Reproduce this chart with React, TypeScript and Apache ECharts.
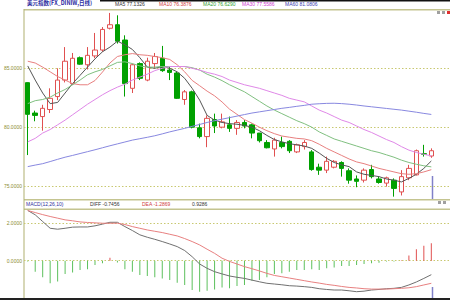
import React, { useEffect, useRef } from 'react';
import * as echarts from 'echarts';

// ---- data ----
const categories = Array.from({ length: 57 }, (_, i) => `D${i + 1}`);

const openPrices = [83.78, 81.2, 80.9, 81.5, 82.6, 84.0, 83.7, 85.9, 85.3, 86.05, 86.55, 88.4, 88.7, 87.4, 83.3, 85.4, 84.0,
  85.4, 85.85, 84.85, 84.6, 82.35, 83.0, 79.95, 79.2, 80.65, 80.0, 80.2, 79.9, 80.4, 80.2, 79.5, 78.7, 78.15, 78.7, 78.8, 77.9,
  78.35, 77.9, 76.6, 76.35, 76.6, 77.0, 76.3, 75.6, 75.5, 76.4, 75.6, 75.25, 75.5, 74.5, 75.7, 75.95, 77.75, 77.55];
const closePrices = [81.09, 81.0, 81.6, 82.45, 84.0, 85.6, 85.85, 85.35, 86.1, 86.55, 88.3, 88.7, 87.3, 83.7, 85.3, 84.15, 85.6,
  86.0, 84.8, 84.65, 82.45, 83.0, 80.0, 79.2, 80.75, 80.1, 80.45, 79.9, 80.4, 80.1, 79.5, 78.85, 78.25, 78.9, 78.35, 78.0, 78.5,
  78.7, 76.4, 76.35, 77.1, 77.1, 76.5, 75.5, 75.4, 76.35, 75.8, 75.3, 75.7, 74.8, 75.8, 76.5, 78.0, 77.7, 78.0];
const lowPrices = [77.63, 80.5, 79.7, 81.2, 82.3, 83.8, 83.6, 85.3, 84.9, 85.85, 86.4, 88.3, 87.1, 82.6, 82.9, 84.0, 83.9,
  85.0, 84.7, 84.0, 82.4, 81.9, 79.9, 79.05, 78.3, 79.5, 79.9, 79.6, 79.35, 79.9, 79.05, 78.7, 78.2, 77.5, 78.2, 77.8, 77.8,
  78.1, 76.3, 75.95, 76.1, 76.5, 75.8, 75.2, 74.9, 75.3, 75.65, 75.2, 74.95, 74.1, 74.2, 75.5, 75.9, 77.5, 77.4];
const highPrices = [83.8, 81.4, 81.9, 83.3, 85.0, 86.8, 86.3, 86.0, 86.8, 88.0, 88.5, 89.7, 89.5, 87.8, 85.4, 85.5, 85.9,
  86.3, 86.9, 85.1, 84.7, 83.15, 83.1, 80.3, 81.0, 81.15, 81.15, 80.9, 80.6, 80.6, 80.3, 79.5, 78.9, 79.1, 79.2, 78.9, 78.6,
  78.9, 78.05, 76.9, 77.5, 77.2, 77.1, 76.5, 75.9, 76.5, 76.8, 75.8, 75.8, 75.65, 76.35, 76.8, 78.1, 78.5, 78.2];

const ma5 = [85.2, 84.0, 82.9, 82.0, 82.1, 82.9, 83.7, 84.4, 85.1, 85.8, 86.4, 86.8, 87.3, 87.0, 86.6, 85.9, 85.1,
  85.0, 85.15, 85.0, 84.7, 84.15, 83.3, 82.3, 81.0, 80.6, 80.4, 80.3, 80.25, 80.15, 80.0, 79.7, 79.3, 78.95, 78.75, 78.6, 78.5,
  78.4, 78.2, 77.8, 77.35, 77.0, 76.8, 76.65, 76.2, 76.0, 75.9, 75.8, 75.6, 75.5, 75.35, 75.65, 76.0, 76.5, 77.13];
const ma10 = [85.6, 85.45, 85.1, 84.7, 84.3, 84.0, 83.7, 83.6, 83.6, 83.96, 84.68, 85.45, 86.0, 86.15, 86.25, 86.15, 86.1,
  86.0, 85.9, 85.75, 85.3, 84.7, 83.97, 83.52, 83.06, 82.66, 82.14, 81.53, 81.09, 80.64, 80.34, 80.0, 79.7, 79.45, 79.25, 79.15, 79.05,
  79.0, 78.85, 78.55, 78.2, 77.9, 77.6, 77.3, 77.05, 76.9, 76.7, 76.5, 76.35, 76.2, 76.05, 76.0, 76.05, 76.2, 76.39];
const ma20 = [82.0, 82.25, 82.35, 82.55, 82.9, 83.2, 83.6, 84.0, 84.45, 84.7, 84.9, 85.2, 85.5, 85.55, 85.4, 85.2, 85.1,
  85.1, 85.15, 85.15, 85.15, 85.15, 85.05, 84.85, 84.5, 84.25, 83.95, 83.6, 83.3, 83.0, 82.6, 82.2, 81.8, 81.45, 81.15, 80.85, 80.55,
  80.3, 80.0, 79.6, 79.3, 79.0, 78.8, 78.6, 78.4, 78.2, 78.0, 77.85, 77.65, 77.45, 77.2, 77.0, 76.85, 76.72, 76.63];
const ma30 = [78.75, 79.05, 79.5, 79.8, 80.2, 80.6, 81.05, 81.5, 81.95, 82.35, 82.75, 83.1, 83.4, 83.65, 84.0, 84.25, 84.5,
  84.8, 85.0, 85.15, 85.15, 85.15, 85.0, 84.85, 84.65, 84.5, 84.3, 84.0, 83.8, 83.6, 83.45, 83.3, 83.1, 82.9, 82.7, 82.45, 82.3,
  82.15, 81.8, 81.45, 81.2, 80.9, 80.6, 80.4, 80.1, 79.8, 79.55, 79.25, 78.95, 78.7, 78.35, 78.05, 77.85, 77.7, 77.56];
const ma60 = [76.65, 76.78, 76.9, 77.08, 77.27, 77.45, 77.6, 77.76, 77.92, 78.08, 78.25, 78.42, 78.58, 78.74, 78.9, 79.02, 79.14,
  79.27, 79.43, 79.6, 79.75, 79.9, 80.07, 80.23, 80.4, 80.55, 80.68, 80.81, 80.94, 81.07, 81.2, 81.3, 81.4, 81.5, 81.6, 81.68, 81.77,
  81.85, 81.95, 81.99, 82.02, 82.03, 82.0, 81.95, 81.88, 81.8, 81.73, 81.66, 81.59, 81.52, 81.45, 81.36, 81.27, 81.17, 81.08];

const diffValues = [2.68, 2.45, 2.09, 1.73, 1.68, 1.73, 1.79, 1.8, 1.8, 1.86, 1.95, 2.05, 2.05, 1.82, 1.61, 1.38, 1.25, 1.14, 1.02, 0.89,
  0.75, 0.54, 0.21, -0.18, -0.41, -0.59, -0.71, -0.82, -0.89, -0.95, -1.04, -1.13, -1.21, -1.25, -1.29, -1.34, -1.36,
  -1.39, -1.43, -1.5, -1.54, -1.57, -1.57, -1.61, -1.66, -1.63, -1.57, -1.54, -1.5, -1.48, -1.43, -1.3, -1.14, -0.95, -0.75];
const deaValues = [2.68, 2.57, 2.46, 2.36, 2.27, 2.18, 2.13, 2.07, 2.04, 2.02, 2.0, 2.0, 2.0, 1.93, 1.82, 1.73, 1.64, 1.57, 1.5, 1.41,
  1.32, 1.18, 1.02, 0.84, 0.61, 0.39, 0.13, -0.04, -0.18, -0.32, -0.43, -0.55, -0.68, -0.79, -0.86, -0.93, -1.0,
  -1.07, -1.14, -1.2, -1.27, -1.32, -1.38, -1.43, -1.46, -1.5, -1.52, -1.52, -1.52, -1.5, -1.48, -1.45, -1.39, -1.3, -1.21];
const macdValues = [-0.05, -0.59, -0.89, -1.21, -1.12, -0.71, -0.64, -0.5, -0.46, -0.23, -0.14, 0.16, -0.1, -0.46, -0.59, -0.77, -0.82,
  -0.89, -0.95, -1.04, -1.18, -1.3, -1.57, -1.66, -1.61, -1.54, -1.43, -1.48, -1.36, -1.3, -1.07, -1.04, -0.89, -0.71, -0.68,
  -0.59, -0.5, -0.5, -0.46, -0.5, -0.41, -0.36, -0.29, -0.29, -0.23, -0.18, -0.14, -0.11, -0.05, -0.04, 0.02, 0.27, 0.61, 0.79, 0.93];

const priceTicks = [75, 80, 85];
const macdTicks = [0, 2];

const titleText = '美元指数(FX_DINIW,日线)';
const maLegend = [
  { text: 'MA5 77.1326', color: '#333333', x: 115 },
  { text: 'MA10 76.3876', color: '#d04040', x: 159 },
  { text: 'MA20 76.6290', color: '#30a030', x: 203 },
  { text: 'MA30 77.5586', color: '#d040d0', x: 242 },
  { text: 'MA60 81.0806', color: '#4040b0', x: 285 },
];
const macdLegend = [
  { text: 'MACD(12,26,10)', color: '#3030a0', x: 26 },
  { text: 'DIFF -0.7456', color: '#333333', x: 90 },
  { text: 'DEA -1.2869', color: '#d04040', x: 142 },
  { text: '0.9286', color: '#333333', x: 192 },
];

const UP = '#e05050';
const DOWN = '#00a000';
const FRAME = '#c4c490';
const GRIDLINE = '#c8c870';
const LABEL = '#8c8c30';

export default function App() {
  const ref = useRef<HTMLDivElement>(null);

  useEffect(() => {
    if (!ref.current) return;
    const chart = echarts.init(ref.current, null, { renderer: 'svg' });
    const candleData = openPrices.map((o, i) => [o, closePrices[i], lowPrices[i], highPrices[i]]);
    const macdBars = macdValues.map((v) => ({
      value: v,
      itemStyle: { color: v >= 0 ? UP : '#5cc05c' },
    }));

    const hiddenX = (gridIndex: number) => ({
      type: 'category',
      gridIndex,
      data: categories,
      boundaryGap: true,
      axisLine: { show: false },
      axisTick: { show: false },
      axisLabel: { show: false },
      splitLine: { show: false },
    });

    const lineSeries = (name: string, data: number[], color: string, xi = 0) => ({
      name,
      type: 'line',
      xAxisIndex: xi,
      yAxisIndex: xi,
      data,
      symbol: 'none',
      showSymbol: false,
      silent: true,
      z: 3,
      lineStyle: { color, width: 1 },
    });

    const graphics: any[] = [
      { type: 'rect', shape: { x: 100, y: 0, width: 350, height: 1.5 }, style: { fill: '#111111' }, silent: true },
      { type: 'rect', shape: { x: 24, y: 9, width: 426, height: 1.6 }, style: { fill: FRAME }, silent: true },
      { type: 'rect', shape: { x: 24, y: 199, width: 426, height: 1.5 }, style: { fill: FRAME }, silent: true },
      { type: 'rect', shape: { x: 24, y: 208.5, width: 426, height: 1.5 }, style: { fill: FRAME }, silent: true },
      { type: 'rect', shape: { x: 23.5, y: 9, width: 1, height: 291 }, style: { fill: '#b0b070' }, silent: true },
      { type: 'rect', shape: { x: 0, y: 298, width: 450, height: 2 }, style: { fill: '#222222' }, silent: true },
      { type: 'line', shape: { x1: 432.5, y1: 176, x2: 432.5, y2: 199 }, style: { stroke: '#8080c8', lineWidth: 1.5 }, silent: true },
      { type: 'line', shape: { x1: 432.5, y1: 287, x2: 432.5, y2: 298 }, style: { stroke: '#8080c8', lineWidth: 1.5 }, silent: true },
      { type: 'rect', shape: { x: 437, y: 11, width: 3, height: 3 }, style: { fill: '#a0a0a0' }, silent: true },
      { type: 'rect', shape: { x: 442, y: 11, width: 3, height: 3 }, style: { fill: '#a0a0a0' }, silent: true },
      { type: 'rect', shape: { x: 447, y: 11, width: 3, height: 3 }, style: { fill: '#e03030' }, silent: true },
      { type: 'rect', shape: { x: 438, y: 201, width: 3, height: 3 }, style: { fill: '#a0a0a0' }, silent: true },
      { type: 'rect', shape: { x: 443, y: 201, width: 3, height: 3 }, style: { fill: '#a0a0a0' }, silent: true },
      {
        type: 'text', x: 27, y: 0.5, silent: true,
        style: { text: titleText, fill: '#2a2aa0', fontSize: 5.5, fontFamily: 'Noto Sans CJK SC', fontWeight: 'bold' },
      },
      ...maLegend.map((m) => ({
        type: 'text', x: m.x, y: 1.5, silent: true,
        style: { text: m.text, fill: m.color, fontSize: 5, fontFamily: 'Liberation Sans' },
      })),
      ...macdLegend.map((m) => ({
        type: 'text', x: m.x, y: 201.5, silent: true,
        style: { text: m.text, fill: m.color, fontSize: 5, fontFamily: 'Liberation Sans' },
      })),
    ];

    chart.setOption({
      animation: false,
      backgroundColor: '#ffffff',
      textStyle: { fontFamily: 'Liberation Sans' },
      grid: [
        { left: 24, top: 10, width: 426, height: 189 },
        { left: 24, top: 209, width: 426, height: 90 },
      ],
      xAxis: [hiddenX(0), hiddenX(1)],
      yAxis: [
        {
          type: 'value', gridIndex: 0, min: 73.9, max: 89.95,
          axisLine: { show: false },
          axisTick: { show: false, customValues: priceTicks },
          axisLabel: {
            customValues: priceTicks, formatter: (v: number) => v.toFixed(4),
            fontSize: 5, color: LABEL, margin: 2,
          },
          splitLine: { show: true, lineStyle: { type: [1.5, 2], color: GRIDLINE, width: 1 } },
        },
        {
          type: 'value', gridIndex: 1, min: -2.05, max: 2.76,
          axisLine: { show: false },
          axisTick: { show: false, customValues: macdTicks },
          axisLabel: {
            customValues: macdTicks, formatter: (v: number) => v.toFixed(4),
            fontSize: 5, color: LABEL, margin: 2,
          },
          splitLine: { show: true, lineStyle: { type: [1.5, 2], color: GRIDLINE, width: 1 } },
        },
      ],
      series: [
        {
          name: 'K',
          type: 'candlestick',
          xAxisIndex: 0,
          yAxisIndex: 0,
          data: candleData,
          barWidth: 5,
          z: 2,
          silent: true,
          itemStyle: {
            color: '#ffffff',
            color0: DOWN,
            borderColor: UP,
            borderColor0: DOWN,
            borderWidth: 1,
          },
        },
        lineSeries('MA5', ma5, '#555555'),
        lineSeries('MA10', ma10, '#e88080'),
        lineSeries('MA20', ma20, '#80c080'),
        lineSeries('MA30', ma30, '#e088e8'),
        lineSeries('MA60', ma60, '#8888e0'),
        {
          name: 'MACD',
          type: 'bar',
          xAxisIndex: 1,
          yAxisIndex: 1,
          data: macdBars,
          barWidth: 1,
          silent: true,
        },
        lineSeries('DIFF', diffValues, '#707070', 1),
        lineSeries('DEA', deaValues, '#e88080', 1),
      ],
      graphic: graphics,
    });

    return () => chart.dispose();
  }, []);

  return (
    <div
      ref={ref}
      style={{ position: 'fixed', left: 0, top: 0, width: 450, height: 300, background: '#fff' }}
    />
  );
}
